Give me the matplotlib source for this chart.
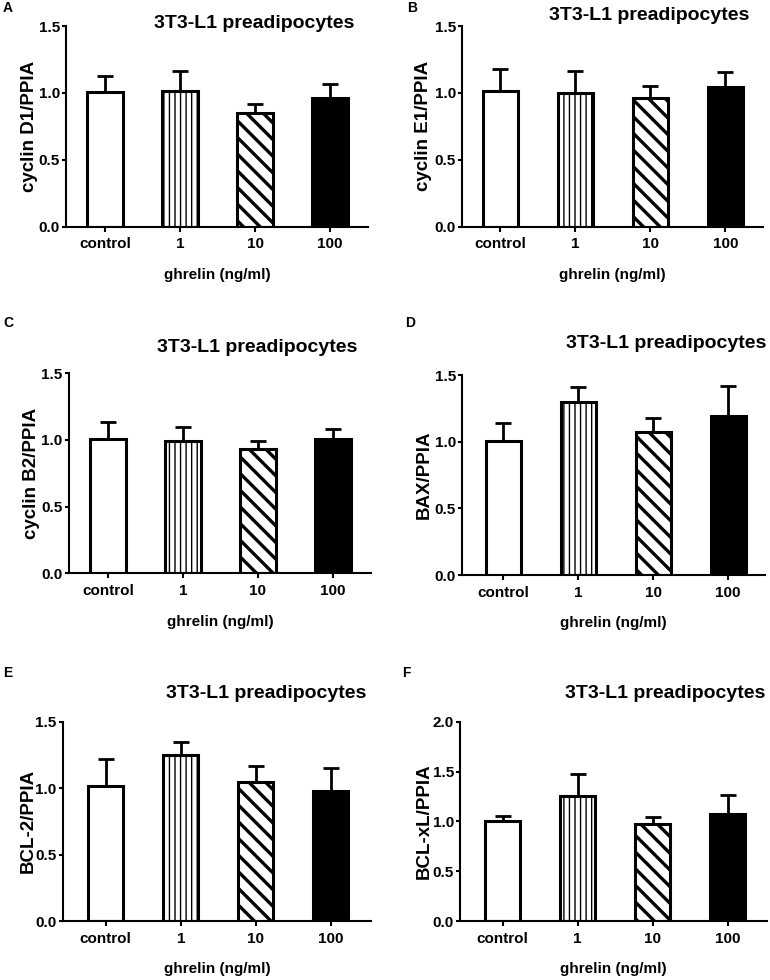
import matplotlib
matplotlib.use("Agg")
import matplotlib.pyplot as plt

plt.rcParams['font.family'] = ['Liberation Sans', 'DejaVu Sans']
plt.rcParams['font.weight'] = 'bold'
plt.rcParams['hatch.linewidth'] = 1.0

categories = ["control", "1", "10", "100"]
xlabel_text = "ghrelin (ng/ml)"
title_text = "3T3-L1 preadipocytes"

panel_letters = ["A", "B", "C", "D", "E", "F"]
ylabels = ["cyclin D1/PPIA", "cyclin E1/PPIA", "cyclin B2/PPIA",
           "BAX/PPIA", "BCL-2/PPIA", "BCL-xL/PPIA"]

means_A = [1.01, 1.015, 0.85, 0.96]
errs_A = [0.115, 0.145, 0.065, 0.105]
means_B = [1.015, 1.00, 0.962, 1.042]
errs_B = [0.16, 0.166, 0.09, 0.112]
means_C = [1.008, 0.995, 0.935, 1.01]
errs_C = [0.127, 0.103, 0.06, 0.073]
means_D = [1.008, 1.297, 1.073, 1.193]
errs_D = [0.132, 0.115, 0.107, 0.225]
means_E = [1.016, 1.252, 1.046, 0.981]
errs_E = [0.20, 0.095, 0.123, 0.17]
means_F = [1.003, 1.258, 0.973, 1.07]
errs_F = [0.054, 0.214, 0.074, 0.194]

all_means = [means_A, means_B, means_C, means_D, means_E, means_F]
all_errs = [errs_A, errs_B, errs_C, errs_D, errs_E, errs_F]
ymaxs = [1.5, 1.5, 1.5, 1.5, 1.5, 2.0]
yticks_list = [[0.0, 0.5, 1.0, 1.5]] * 5 + [[0.0, 0.5, 1.0, 1.5, 2.0]]

# layout in pixels: left spine, right end, top (ymax), bottom (0), xlim left
W, H = 770, 980
boxes = [
    (66, 368, 26, 226.7, -0.52),
    (462, 763, 26, 226.7, -0.51),
    (69, 371, 373.3, 573.3, -0.52),
    (462, 765, 375, 575, -0.55),
    (63, 371, 721.7, 921, -0.57),
    (460, 767, 721.7, 921, -0.57),
]
ylabel_right = [38, 432, 40, 433, 37, 433]
title_pos = [(254, 23), (649, 15), (257, 347), (666, 343), (266, 693), (665, 693)]
letter_pos = [(3, 8), (407, 8), (3, 323), (405, 323), (3, 673), (402, 673)]

fig = plt.figure(figsize=(W / 100, H / 100), dpi=100)

faces = ["white", "white", "white", "black"]
hatches = [None, "|||", "\\\\", None]
hatch_lw = [1.0, 1.0, 2.4, 1.0]

for i in range(6):
    l, r, t, b, xl = boxes[i]
    ax = fig.add_axes([l / W, 1 - b / H, (r - l) / W, (b - t) / H])
    xs = list(range(len(categories)))
    xr = xl + (r - l) / 75.0
    for j, x in enumerate(xs):
        with plt.rc_context({'hatch.linewidth': hatch_lw[j]}):
            ax.bar(x, all_means[i][j], width=0.47, color=faces[j],
                   edgecolor="black", linewidth=2.2, hatch=hatches[j], zorder=2)
    ax.errorbar(xs, all_means[i], yerr=[[0] * 4, all_errs[i]], fmt="none",
                ecolor="black", elinewidth=2.0, capsize=6, capthick=2.0, zorder=3)
    ax.set_xlim(xl, xr)
    ax.set_ylim(0, ymaxs[i])
    ax.set_yticks(yticks_list[i])
    ax.set_yticklabels([f"{v:.1f}" for v in yticks_list[i]])
    ax.set_xticks(xs)
    ax.set_xticklabels(categories)
    for s in ["top", "right"]:
        ax.spines[s].set_visible(False)
    for s in ["left", "bottom"]:
        ax.spines[s].set_linewidth(1.5)
    ax.tick_params(axis="both", direction="out", width=1.5, labelsize=11)
    ax.tick_params(axis="y", length=3, pad=1.5)
    ax.tick_params(axis="x", length=3.6, pad=4)
    ax.set_xlabel(xlabel_text, fontsize=11, fontweight="bold", labelpad=12)
    ax.set_ylabel(ylabels[i], fontsize=13.5, fontweight="bold")
    ax.yaxis.set_label_coords((ylabel_right[i] - l) / (r - l), 0.5)
    tx, ty = title_pos[i]
    fig.text(tx / W, 1 - ty / H, title_text, ha="center", va="center",
             fontsize=14, fontweight="bold")
    lx, ly = letter_pos[i]
    fig.text(lx / W, 1 - ly / H, panel_letters[i], ha="left", va="center",
             fontsize=10, fontweight="bold")

fig.savefig("out.png", dpi=100)
